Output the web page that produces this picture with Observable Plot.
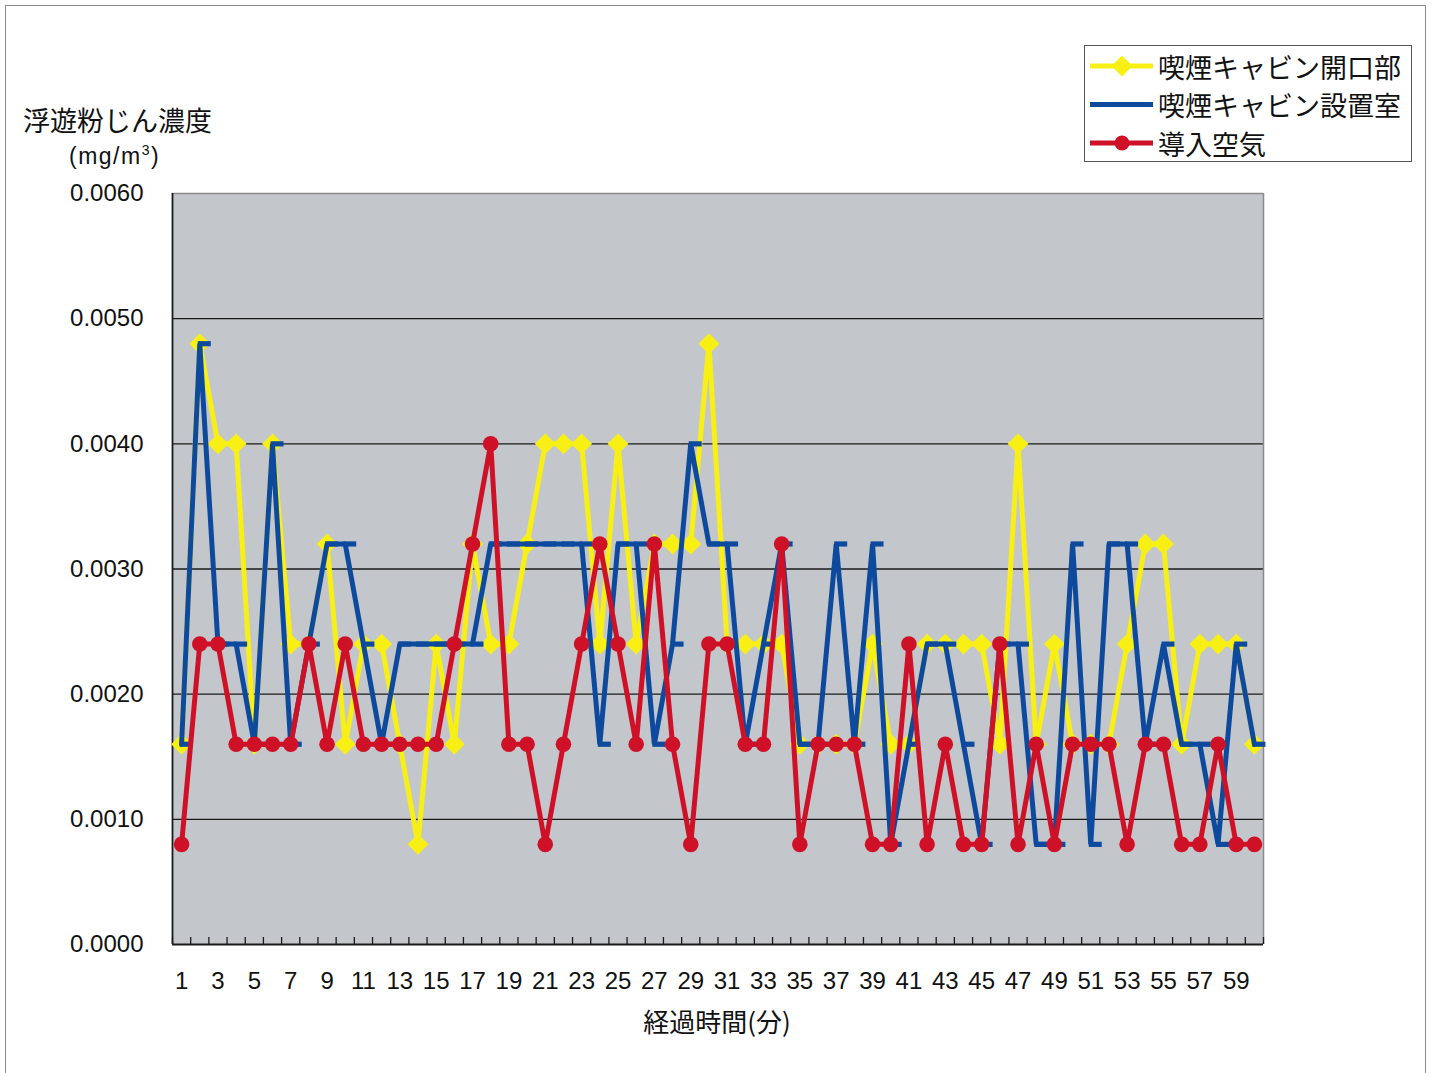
<!DOCTYPE html>
<html><head><meta charset="utf-8">
<script src="https://cdn.jsdelivr.net/npm/d3@7"></script>
<script src="https://cdn.jsdelivr.net/npm/@observablehq/plot@0.6"></script>
<style>
body{margin:0;background:#fff;}
#wrap{position:relative;width:1437px;height:1073px;overflow:hidden;font-family:"Noto Sans CJK JP","Noto Sans",sans-serif;color:#111;background:#fff;}
#border{position:absolute;left:5px;top:5px;width:1421px;height:1100px;border:1.5px solid #8c8c8c;box-sizing:border-box;}
#chart{position:absolute;left:0;top:0;}
#ytitle{position:absolute;left:23px;top:102px;font-size:27px;line-height:36px;white-space:nowrap;}
#yunit{position:absolute;left:69px;top:141px;font-size:23px;letter-spacing:1.5px;line-height:30px;white-space:nowrap;font-family:"Liberation Sans","Noto Sans",sans-serif;}
#yunit sup{font-size:14px;vertical-align:9px;line-height:0;}
#xtitle{position:absolute;left:567px;width:300px;top:1003px;font-size:26px;line-height:36px;text-align:center;white-space:nowrap;}
#legend{position:absolute;left:1084px;top:45px;width:328px;height:117px;border:1.5px solid #555;background:#fff;box-sizing:border-box;}
#legend svg{overflow:visible;}
</style>
</head><body>
<div id="wrap">
  <div id="border"></div>
  <div id="chart"></div>
  <div id="ytitle">浮遊粉じん濃度</div>
  <div id="yunit">(mg/m<sup>3</sup>)</div>
  <div id="xtitle">経過時間(分)</div>
  <div id="legend"></div>
</div>
<script>
// ---- data ----
const minutes = d3.range(1, 61);
const seriesNames = ["喫煙キャビン開口部", "喫煙キャビン設置室", "導入空気"];
const openingValues = [
  0.0016,0.0048,0.0040,0.0040,0.0016,0.0040,0.0024,0.0024,0.0032,0.0016,
  0.0024,0.0024,0.0016,0.0008,0.0024,0.0016,0.0032,0.0024,0.0024,0.0032,
  0.0040,0.0040,0.0040,0.0024,0.0040,0.0024,0.0032,0.0032,0.0032,0.0048,
  0.0024,0.0024,0.0024,0.0024,0.0016,0.0016,0.0016,0.0016,0.0024,0.0016,
  0.0016,0.0024,0.0024,0.0024,0.0024,0.0016,0.0040,0.0016,0.0024,0.0016,
  0.0016,0.0016,0.0024,0.0032,0.0032,0.0016,0.0024,0.0024,0.0024,0.0016
];
const roomValues = [
  0.0016,0.0048,0.0024,0.0024,0.0016,0.0040,0.0016,0.0024,0.0032,0.0032,
  0.0024,0.0016,0.0024,0.0024,0.0024,0.0024,0.0024,0.0032,0.0032,0.0032,
  0.0032,0.0032,0.0032,0.0016,0.0032,0.0032,0.0016,0.0024,0.0040,0.0032,
  0.0032,0.0016,0.0024,0.0032,0.0016,0.0016,0.0032,0.0016,0.0032,0.0008,
  0.0016,0.0024,0.0024,0.0016,0.0008,0.0024,0.0024,0.0008,0.0008,0.0032,
  0.0008,0.0032,0.0032,0.0016,0.0024,0.0016,0.0016,0.0008,0.0024,0.0016
];
const intakeValues = [
  0.0008,0.0024,0.0024,0.0016,0.0016,0.0016,0.0016,0.0024,0.0016,0.0024,
  0.0016,0.0016,0.0016,0.0016,0.0016,0.0024,0.0032,0.0040,0.0016,0.0016,
  0.0008,0.0016,0.0024,0.0032,0.0024,0.0016,0.0032,0.0016,0.0008,0.0024,
  0.0024,0.0016,0.0016,0.0032,0.0008,0.0016,0.0016,0.0016,0.0008,0.0008,
  0.0024,0.0008,0.0016,0.0008,0.0008,0.0024,0.0008,0.0016,0.0008,0.0016,
  0.0016,0.0016,0.0008,0.0016,0.0016,0.0008,0.0008,0.0016,0.0008,0.0008
];
const yTicks = [0, 0.001, 0.002, 0.003, 0.004, 0.005, 0.006];
const xTickLabels = minutes.filter(m => m % 2 === 1);

const colors = ["#f8f014", "#0d4a9e", "#cf1128"];

const toRows = (vals) => vals.map((v, i) => ({minute: minutes[i], value: v}));
const opening = toRows(openingValues);
const room = toRows(roomValues);
const intake = toRows(intakeValues);

const xDomain = [minutes[0] - 0.5, minutes[minutes.length - 1] + 0.5];
const boundaries = d3.range(xDomain[0], xDomain[1] + 0.01, 1);

// dash marker (Excel style), offset to the right of the point
const dashSymbol = {
  draw(ctx, size) {
    ctx.moveTo(-2, -2.6); ctx.lineTo(11, -2.6); ctx.lineTo(11, 2.6); ctx.lineTo(-2, 2.6); ctx.closePath();
  }
};

const chart = Plot.plot({
  width: 1437,
  height: 1073,
  marginLeft: 172,
  marginRight: 174,
  marginTop: 193,
  marginBottom: 129,
  style: {fontFamily: "'Liberation Sans', Arial, sans-serif", fontSize: "24px", background: "transparent", color: "#111"},
  x: {type: "linear", domain: xDomain},
  y: {domain: [yTicks[0], yTicks[yTicks.length - 1]]},
  marks: [
    Plot.frame({fill: "#c3c7cb", stroke: null}),
    Plot.ruleY(yTicks.slice(1, -1), {stroke: "#1a1a1a", strokeWidth: 1.4}),
    Plot.ruleY(yTicks.slice(-1), {stroke: "#8a8a8a", strokeWidth: 1.5}),
    Plot.ruleX(xDomain.slice(1), {stroke: "#8a8a8a", strokeWidth: 1.5}),
    Plot.ruleX(boundaries, {y1: 0, y2: 0, insetTop: -7, stroke: "#1a1a1a", strokeWidth: 1.3}),
    Plot.ruleX(xDomain.slice(0, 1), {stroke: "#1a1a1a", strokeWidth: 1.8}),
    Plot.ruleY(yTicks.slice(0, 1), {stroke: "#1a1a1a", strokeWidth: 1.8}),
    Plot.axisY({ticks: yTicks, tickFormat: d3.format(".4f"), tickSize: 0, tickPadding: 29, label: null}),
    Plot.axisX({ticks: xTickLabels, tickFormat: d => String(d), tickSize: 0, tickPadding: 27, label: null}),
    // series 1
    Plot.line(opening, {x: "minute", y: "value", stroke: colors[0], strokeWidth: 5, strokeLinejoin: "miter"}),
    Plot.dot(opening, {x: "minute", y: "value", symbol: "diamond2", r: 9.4, fill: colors[0], stroke: null}),
    // series 2
    Plot.line(room, {x: "minute", y: "value", stroke: colors[1], strokeWidth: 5, strokeLinejoin: "miter"}),
    Plot.dot(room, {x: "minute", y: "value", symbol: dashSymbol, r: 5, fill: colors[1], stroke: null}),
    // series 3
    Plot.line(intake, {x: "minute", y: "value", stroke: colors[2], strokeWidth: 5, strokeLinejoin: "miter"}),
    Plot.dot(intake, {x: "minute", y: "value", r: 7.8, fill: colors[2], stroke: null})
  ]
});
document.getElementById("chart").appendChild(chart);

// legend
const lg = d3.select("#legend").append("svg").attr("width", 325).attr("height", 114);
seriesNames.forEach((name, i) => {
  const y = 20 + i * 38.5;
  lg.append("line").attr("x1", 5).attr("x2", 68).attr("y1", y).attr("y2", y)
    .attr("stroke", colors[i]).attr("stroke-width", 5);
  if (i === 0) {
    lg.append("path").attr("d", d3.symbol(d3.symbolDiamond2, 280)()).attr("transform", `translate(37,${y})`).attr("fill", colors[i]);
  } else if (i === 2) {
    lg.append("circle").attr("cx", 37).attr("cy", y).attr("r", 7.5).attr("fill", colors[i]);
  }
  lg.append("text").attr("x", 73).attr("y", y).attr("dominant-baseline", "central")
    .attr("font-family", "'Noto Sans CJK JP', sans-serif").attr("font-size", 27).attr("fill", "#111").text(name);
});
</script>
</body></html>
